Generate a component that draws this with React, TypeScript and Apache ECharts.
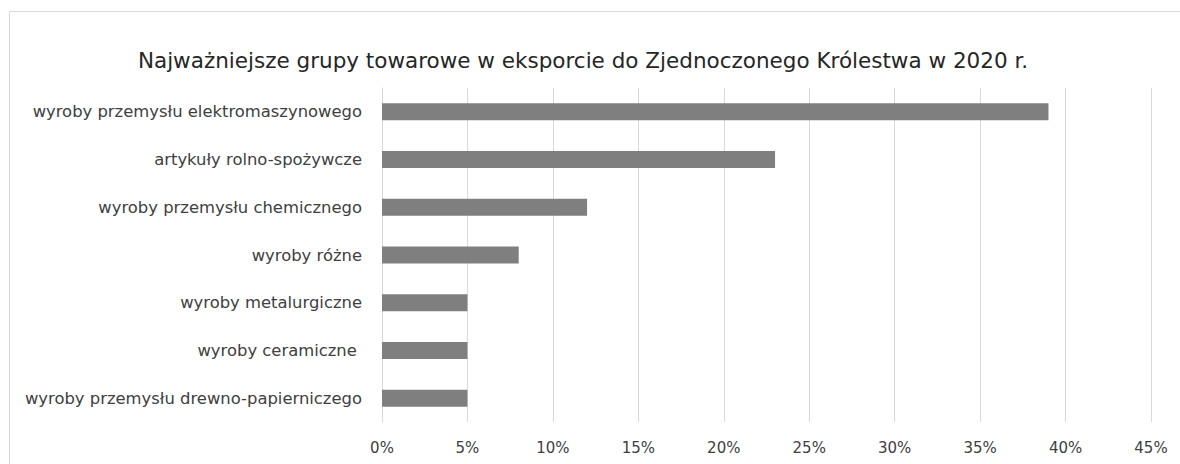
import React, { useEffect, useRef } from "react";
import * as echarts from "echarts";

const categories = [
  "wyroby przemysłu elektromaszynowego",
  "artykuły rolno-spożywcze",
  "wyroby przemysłu chemicznego",
  "wyroby różne",
  "wyroby metalurgiczne",
  "wyroby ceramiczne ",
  "wyroby przemysłu drewno-papierniczego",
];
const values = [39, 23, 12, 8, 5, 5, 5];
const title = "Najważniejsze grupy towarowe w eksporcie do Zjednoczonego Królestwa w 2020 r.";

export default function App() {
  const ref = useRef<HTMLDivElement>(null);
  useEffect(() => {
    if (!ref.current) return;
    const chart = echarts.init(ref.current, undefined, { renderer: "svg" });
    const font = "'DejaVu Sans', sans-serif";
    chart.setOption({
      animation: false,
      backgroundColor: "#ffffff",
      title: {
        text: title,
        left: 578,
        textAlign: "center",
        top: 44,
        textStyle: { fontFamily: font, fontSize: 21.5, fontWeight: "normal", color: "#262626" },
      },
      graphic: [
        {
          type: "rect",
          shape: { x: 9.5, y: 11.5, width: 1300, height: 600 },
          style: { fill: "none", stroke: "#d9d9d9", lineWidth: 1 },
          silent: true,
        },
      ],
      grid: { left: 382, right: 29, top: 88, bottom: 42 },
      xAxis: {
        type: "value",
        min: 0,
        max: 45,
        interval: 5,
        axisLine: { show: false },
        axisTick: { show: false },
        splitLine: { show: true, lineStyle: { color: "#d9d9d9", width: 1 } },
        axisLabel: {
          formatter: "{value}%",
          margin: 18,
          fontFamily: font,
          fontSize: 15,
          color: "#404040",
        },
      },
      yAxis: {
        type: "category",
        data: categories,
        inverse: true,
        axisLine: { show: true, lineStyle: { color: "#d9d9d9", width: 1 } },
        axisTick: { show: false },
        axisLabel: {
          margin: 20,
          fontFamily: font,
          fontSize: 16.4,
          color: "#404040",
        },
      },
      series: [
        {
          type: "bar",
          data: values,
          barWidth: 17,
          itemStyle: { color: "#7f7f7f" },
        },
      ],
    });
    return () => chart.dispose();
  }, []);
  return (
    <div
      ref={ref}
      style={{ position: "fixed", left: 0, top: 0, width: 1180, height: 464 }}
    />
  );
}
